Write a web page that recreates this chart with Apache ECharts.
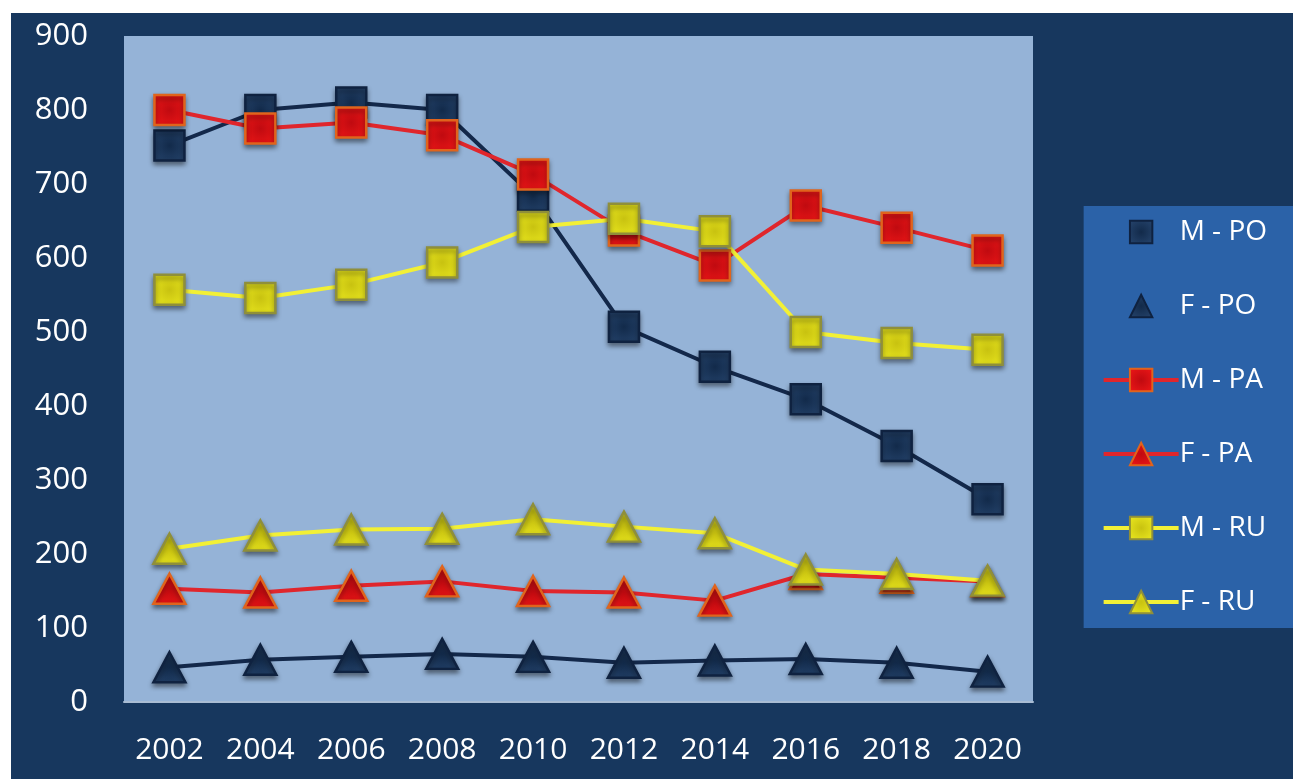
<!DOCTYPE html>
<html>
<head>
<meta charset="utf-8">
<script src="https://cdn.jsdelivr.net/npm/echarts@6/dist/echarts.min.js"></script>
<style>
  html, body { margin: 0; padding: 0; background: #fff; }
  #chart { position: absolute; left: 11px; top: 13px; width: 1282px; height: 766px; }
</style>
</head>
<body>
<div id="chart"></div>
<script>
const years = ["2002", "2004", "2006", "2008", "2010", "2012", "2014", "2016", "2018", "2020"];
const yTicks = [0, 100, 200, 300, 400, 500, 600, 700, 800, 900];

const mPO = [752, 800, 810, 800, 684, 507, 453, 409, 346, 274];
const fPO = [47, 57, 61, 65, 61, 53, 56, 58, 53, 41];
const mPA = [800, 775, 783, 766, 713, 637, 590, 671, 641, 610];
const fPA = [153, 148, 157, 163, 150, 148, 137, 173, 168, 163];
const mRU = [557, 546, 564, 594, 642, 653, 636, 500, 485, 476];
const fRU = [207, 225, 233, 234, 247, 237, 228, 179, 173, 164];

const chart = echarts.init(document.getElementById("chart"));

const shadow = { shadowBlur: 5, shadowColor: "rgba(0,0,0,0.45)", shadowOffsetY: 3 };

function bevel(light, dark) {
  return {
    type: "radial", x: 0.5, y: 0.5, r: 0.7,
    colorStops: [{ offset: 0, color: dark }, { offset: 1, color: light }]
  };
}

function mkSeries(name, data, symbol, size, lineColor, fill, border) {
  return {
    name: name,
    type: "line",
    data: data,
    symbol: symbol,
    symbolSize: size,
    showAllSymbol: true,
    lineStyle: { color: lineColor, width: 4 },
    itemStyle: Object.assign({ color: fill, borderColor: border, borderWidth: 2.5 }, shadow),
    emphasis: { disabled: true },
    animation: false
  };
}

chart.setOption({
  backgroundColor: "#17375e",
  textStyle: { fontFamily: "Open Sans" },
  grid: {
    left: 113, top: 23, right: 260, bottom: 77,
    show: true, backgroundColor: "#95b3d7", borderWidth: 0
  },
  legend: {
    orient: "vertical",
    right: 0,
    top: 193,
    backgroundColor: "#2b62a8",
    padding: [12, 26, 12, 18],
    itemWidth: 75,
    itemHeight: 28,
    itemGap: 46,
    textStyle: { color: "#ffffff", fontSize: 28, fontFamily: "Open Sans", padding: [0, 0, 0, -4] },
    data: [
      { name: "M - PO", lineStyle: { opacity: 0 } },
      { name: "F - PO", lineStyle: { opacity: 0 } },
      { name: "M - PA", lineStyle: { width: 4 } },
      { name: "F - PA", lineStyle: { width: 4 } },
      { name: "M - RU", lineStyle: { width: 4 } },
      { name: "F - RU", lineStyle: { width: 4 } }
    ]
  },
  xAxis: {
    type: "category",
    data: years,
    boundaryGap: true,
    axisLine: { lineStyle: { color: "#a9bcd3", width: 2 } },
    axisTick: { interval: 0, length: 9, lineStyle: { color: "#a9bcd3", width: 2 } },
    axisLabel: { interval: 0, color: "#ffffff", fontSize: 30, margin: 33 },
    splitLine: { show: false }
  },
  yAxis: {
    type: "value",
    min: yTicks[0],
    max: yTicks[yTicks.length - 1],
    interval: 100,
    axisLine: { show: false },
    axisTick: { show: false },
    axisLabel: { color: "#ffffff", fontSize: 31, margin: 36 },
    splitLine: { show: false }
  },
  series: [
    mkSeries("M - PO", mPO, "rect", 30, "#13284a", bevel("#27466f", "#122a4a"), "#0f2240"),
    mkSeries("F - PO", fPO, "triangle", [32, 30], "#13284a", bevel("#27466f", "#122a4a"), "#0f2240"),
    mkSeries("M - PA", mPA, "rect", 30, "#e0262c", bevel("#f01818", "#c00a10"), "#e0641c"),
    mkSeries("F - PA", fPA, "triangle", [32, 30], "#e0262c", bevel("#f01818", "#c00a10"), "#e0641c"),
    mkSeries("M - RU", mRU, "rect", 30, "#f2f036", bevel("#ecea20", "#c8c210"), "#8f8f3a"),
    mkSeries("F - RU", fRU, "triangle", [32, 30], "#f2f036", bevel("#ecea20", "#c8c210"), "#8f8f3a")
  ]
});
</script>
</body>
</html>
